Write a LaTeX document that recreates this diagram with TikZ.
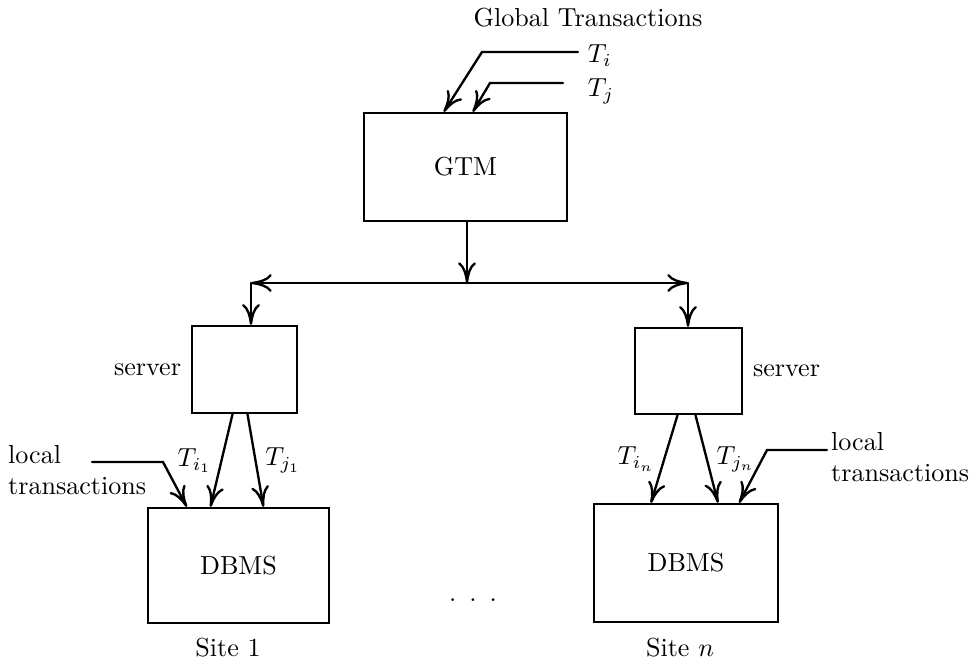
\documentclass[tikz,border=0pt]{standalone}
\usetikzlibrary{arrows.meta,calc}
\newcommand\px{0.01348cm}

\begin{document}
\begin{tikzpicture}[x=\px, y=-\px, line width=0.9pt, line cap=round,
    box/.style 2 args={draw, minimum width=#1*\px, minimum height=#2*\px, inner sep=0pt},
    arr/.style={-{To[length=2.8mm,width=2.4mm]}}]
  \useasboundingbox (0,0) rectangle (978,664);
  % global manager
  \node[box={203}{108}] (gtm) at (465.5,167) {GTM};
  \node (glob) at (588,18) {Global Transactions};
  \node[anchor=west, inner sep=1pt] (ti) at (584,56) {$T_i$};
  \node[anchor=west, inner sep=1pt] (tj) at (584,91) {$T_j$};
  \draw[arr] ($(ti.west)+(-6,-4)$) -- ++(-96,0) -- ($(gtm.north west)+(81,0)$);
  \draw[arr] ($(tj.west)+(-21,-8)$) -- ++(-73,0) -- ($(gtm.north west)+(110,0)$);
  % split
  \coordinate (split) at (467,283);
  \coordinate (c1) at (251,283);
  \coordinate (cn) at (688,283);
  \draw[arr] (gtm.south -| split) -- (split);
  \draw[arr] (split) -- (c1);
  \draw[arr] (split) -- (cn);
  % servers
  \node[box={105}{87}] (srv1) at (244.5,369.5) {};
  \node[box={107}{86}] (srvn) at (688.5,371) {};
  \node[left] (lsrv1) at (srv1.west) {server};
  \node[right] (lsrvn) at (srvn.east) {server};
  \draw[arr] (c1) -- (c1 |- srv1.north);
  \draw[arr] (cn) -- (cn |- srvn.north);
  % local databases
  \node[box={181}{115}] (db1) at (238.5,565.5) {DBMS};
  \node[box={184}{118}] (dbn) at (686,563) {DBMS};
  \node (site1) at (228,648) {Site 1};
  \node (siten) at (680,648) {Site $n$};
  \node (dots) at (473,600) {.\enspace.\enspace.};
  % subtransactions
  \draw[arr] ($(srv1.south)+(-12,0)$) -- node[left] (ti1) {$T_{i_1}$} ($(db1.north)+(-28,0)$);
  \draw[arr] ($(srv1.south)+(3,0)$) -- node[right] (tj1) {$T_{j_1}$} ($(db1.north)+(25,0)$);
  \draw[arr] ($(srvn.south)+(-11,0)$) -- node[left] (tin) {$T_{i_n}$} ($(dbn.north)+(-35,0)$);
  \draw[arr] ($(srvn.south)+(7,0)$) -- node[right] (tjn) {$T_{j_n}$} ($(dbn.north)+(32,0)$);
  % local transactions
  \node[align=left, anchor=west, inner sep=0pt] (loc1) at (7,470) {local\\transactions};
  \node[align=left, anchor=west, inner sep=0pt] (locn) at (830,457) {local\\transactions};
  \coordinate (loc1in) at (92,462);
  \coordinate (locnin) at (827,450);
  \draw[arr] (loc1in) -- ++(71,0) -- ($(db1.north west)+(40,0)$);
  \draw[arr] (locnin) -- ++(-60,0) -- ($(dbn.north east)+(-40,0)$);
\end{tikzpicture}
\end{document}
